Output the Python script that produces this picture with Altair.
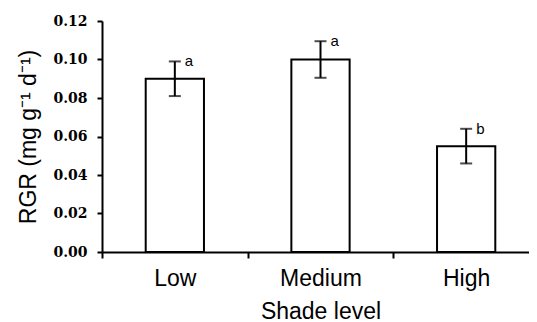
import altair as alt
import pandas as pd

categories = ["Low", "Medium", "High"]
means = [0.090, 0.100, 0.055]
errors = [0.009, 0.0095, 0.009]
letters = ["a", "a", "b"]
y_ticks = [0.0, 0.02, 0.04, 0.06, 0.08, 0.10, 0.12]

df = pd.DataFrame({"shade": categories, "rgr": means, "err": errors, "letter": letters})
df["lo"] = df["rgr"] - df["err"]
df["hi"] = df["rgr"] + df["err"]

x_scale = alt.Scale(domain=categories, paddingInner=0, paddingOuter=0, range=[0, 437])
x_axis = alt.Axis(title="Shade level", tickBand="extent", labelAngle=0,
                  labelFont="Liberation Sans", labelFontSize=23, labelColor="black",
                  labelPadding=9, tickSize=6, labelOverlap=False,
                  titleFont="Liberation Sans", titleFontSize=23, titleFontWeight="normal",
                  titleColor="black", titlePadding=10)
y_scale = alt.Scale(domain=[0, 0.12], nice=False, zero=True)
y_axis = alt.Axis(title="RGR (mg g⁻¹ d⁻¹)", values=y_ticks, format=".2f",
                  labelFont="DejaVu Serif", labelFontWeight="bold", labelFontSize=14,
                  labelColor="black", labelPadding=10, tickSize=5, labelOverlap=False,
                  titleFont="Liberation Sans", titleFontSize=23, titleFontWeight="normal",
                  titleColor="black", titlePadding=12)

xs = alt.X("shade:N", sort=categories, scale=x_scale, axis=x_axis)
base = alt.Chart(df)
bars = base.mark_bar(width=alt.RelativeBandSize(0.4), fill="white", stroke="black",
                     strokeWidth=2).encode(x=xs, y=alt.Y("rgr:Q", scale=y_scale, axis=y_axis))
rule = base.mark_rule(color="black", strokeWidth=2).encode(
    x=xs, y=alt.Y("lo:Q", scale=y_scale, axis=y_axis), y2="hi:Q")
cap_hi = base.mark_tick(color="black", size=12, thickness=2).encode(
    x=xs, y=alt.Y("hi:Q", scale=y_scale, axis=y_axis))
cap_lo = base.mark_tick(color="black", size=12, thickness=2).encode(
    x=xs, y=alt.Y("lo:Q", scale=y_scale, axis=y_axis))
text = base.mark_text(align="left", baseline="middle", dx=10, dy=0,
                      font="Liberation Sans", fontSize=15, color="black").encode(
    x=xs, y=alt.Y("hi:Q", scale=y_scale, axis=y_axis), text="letter:N")

chart = alt.layer(bars, rule, cap_hi, cap_lo, text).properties(
    width=427, height=231,
    autosize=alt.AutoSizeParams(type="none"),
    padding={"left": 94, "top": 13, "right": 0, "bottom": 70},
).configure_view(stroke=None).configure_axis(
    grid=False, domainColor="black", domainWidth=2, tickColor="black", tickWidth=2
)

chart.save("out.html", embed_options={"renderer": "svg", "actions": False})
